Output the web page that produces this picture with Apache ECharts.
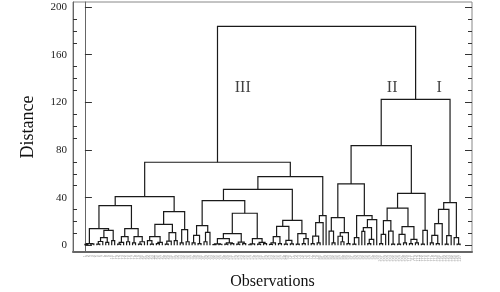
<!DOCTYPE html>
<html>
<head>
<meta charset="utf-8">
<script src="https://cdn.jsdelivr.net/npm/echarts@6/dist/echarts.min.js"></script>
<style>
  html, body { margin: 0; padding: 0; background: #fff; }
  #chart { width: 500px; height: 292px; }
</style>
</head>
<body>
<div id="chart"></div>
<script>
// Merge heights. A node is [height, left, right], a leaf is 0.
const clusterIIIa = [40.8,
  [33.3,
    [14.0,
      [1.5, [0.8, 0, 0], [1.2, 0, 0]],
      [12.6,
        [6.4, [3.2, [1, 0, 0], 0], [2.5, 0, 0]],
        [3.9, 0, 0]]],
    [14.0,
      [7.3, [2.5, [1, 0, 0], 0], [3, 0, 0]],
      [7.3, [2, 0, 0], [3, [1, 0, 0], 0]]]],
  [28.3,
    [17.6,
      [7.3, [4, 0, [1, 0, 0]], [2.5, [1.5, 0, 0], 0]],
      [10.6, [3.5, [1, 0, 0], 0], [4, 0, 0]]],
    [13.1, [2, 0, 0], [3, 0, 0]]]];

const clusterIIIb = [57.6,
  [47.0,
    [37.5,
      [16.5,
        [8.4, [2, 0, 0], [1.5, 0, 0]],
        [10.9, [3, 0, 0], 0]],
      [26.9,
        [9.8,
          [5.6, [1.2, [0.6, 0, 0], [0.9, 0, 0]], [2, [1, 0, 0], [1.4, 0, 0]]],
          [2.7, [1, 0, 0], [1.5, 0, 0]]],
        [5.6, [1.2, [0.5, 0, 0], 0], [2.5, [1, 0, 0], [1.5, 0, 0]]]]],
    [21.0,
      [15.9,
        [7.3, [2, [0.8, 0, 0], 0], [1.5, 0, 0]],
        [4.2, [1, 0, 0], [1.2, 0, 0]]],
      [9.8, [1, 0, 0], [5.6, [1.5, 0, 0], 0]]]],
  [24.9,
    [19.0, [7.8, [1.5, 0, 0], [2, 0, 0]], 0],
    0]];

const clusterIIa = [51.5,
  [23.2,
    [12.0, 0, [2, 0, 0]],
    [10.6, [7.6, 0, [3, 0, 0]], [1.5, 0, 0]]],
  [24.9,
    [6.4, [1, 0, 0], 0],
    [21.5,
      [14.8, [11.7, 0, 0], [5, [1.5, 0, 0], 0]],
      0]]];

const clusterIIb = [43.6,
  [31.3,
    [20.7,
      [9.2, [1.5, 0, 0], 0],
      [12.0, 0, [1, 0, 0]]],
    [15.7,
      [9.2, [1, 0, 0], [2, 0, 0]],
      [5.0, [1.5, 0, 0], [2, 0, 0]]]],
  [12.6, [1, 0, 0], 0]];

const clusterI = [35.8,
  [30.2,
    [18.2, [8.4, [2, 0, 0], [1.5, 0, 0]], 0],
    [8.1, [1, 0, 0], 0]],
  [6.4, 0, [1, 0, 0]]];

// top joins: III, II, II+I, root
const joinHeights = [69.7, 83.6, 122.5, 183.8];

const tree = [joinHeights[3],
  [joinHeights[0], clusterIIIa, clusterIIIb],
  [joinHeights[2], [joinHeights[1], clusterIIa, clusterIIb], clusterI]];

const yTicks = [0, 40, 80, 120, 160, 200];
const romanLabels = ['III', 'II', 'I'];
const romanX = [53, 103.2, 119];
const romanY = [132, 132, 132];

// lay out the dendrogram: leaves on integer positions, parents at the midpoint
const segments = [];
let leafCount = 0;
function layout(node) {
  if (node === 0) return { x: leafCount++, h: 0 };
  const a = layout(node[1]);
  const b = layout(node[2]);
  segments.push({ coords: [[a.x, a.h], [a.x, node[0]], [b.x, node[0]], [b.x, b.h]] });
  return { x: (a.x + b.x) / 2, h: node[0] };
}
layout(tree);
const leafNames = [];
for (let i = 0; i < leafCount; i++) leafNames.push(String(i + 1));

const minorTicks = [];
for (let v = 10; v <= 200; v += 10) if (v % 40 !== 0) minorTicks.push(v);

const serif = "'Liberation Serif', 'DejaVu Serif', serif";
const yMin = -5.6, yMax = 204.2;

function yAx(pos, values, len, labels) {
  return {
    type: 'value', position: pos, min: yMin, max: yMax,
    axisLine: { show: pos === 'left', lineStyle: { color: '#666', width: 1 } },
    axisTick: { show: true, inside: true, length: len, customValues: values,
      lineStyle: { color: '#333', width: 1 } },
    axisLabel: labels ? { show: true, customValues: values, color: '#222',
      fontFamily: serif, fontSize: 11, margin: 6 } : { show: false },
    splitLine: { show: false }
  };
}

const chart = echarts.init(document.getElementById('chart'));
chart.setOption({
  animation: false,
  grid: { left: 73, right: 28, top: 2, bottom: 40, show: true,
    borderColor: '#888', borderWidth: 1, outerBoundsMode: 'none', containLabel: false },
  xAxis: {
    type: 'value', min: -4, max: leafCount - 1 + 4, interval: 1,
    name: 'Observations', nameLocation: 'middle', nameGap: 22,
    nameTextStyle: { fontFamily: serif, fontSize: 16, color: '#111' },
    axisLine: { onZero: false, lineStyle: { color: '#666', width: 2 } },
    axisTick: { show: false },
    splitLine: { show: false },
    axisLabel: {
      rotate: 90, fontSize: 4, color: '#999', margin: 3,
      formatter: v => (v >= 0 && v < leafCount && v === Math.round(v)) ? leafNames[v] : ''
    }
  },
  yAxis: [
    Object.assign(yAx('left', yTicks, 7, true), {
      name: 'Distance', nameLocation: 'middle', nameGap: 36, nameRotate: 90,
      nameTextStyle: { fontFamily: serif, fontSize: 18, color: '#111' }
    }),
    yAx('left', minorTicks, 4, false),
    yAx('right', yTicks, 7, false),
    yAx('right', minorTicks, 4, false)
  ],
  series: [
    {
      type: 'lines', coordinateSystem: 'cartesian2d', polyline: true, silent: true,
      lineStyle: { color: '#1a1a1a', width: 1.2, opacity: 1 },
      data: segments
    },
    {
      type: 'scatter', symbolSize: 0, silent: true,
      data: romanLabels.map((t, i) => ({ value: [romanX[i], romanY[i]], name: t })),
      label: { show: true, position: 'inside', formatter: p => p.name,
        fontFamily: serif, fontSize: 16, color: '#111' }
    }
  ]
});
</script>
</body>
</html>
